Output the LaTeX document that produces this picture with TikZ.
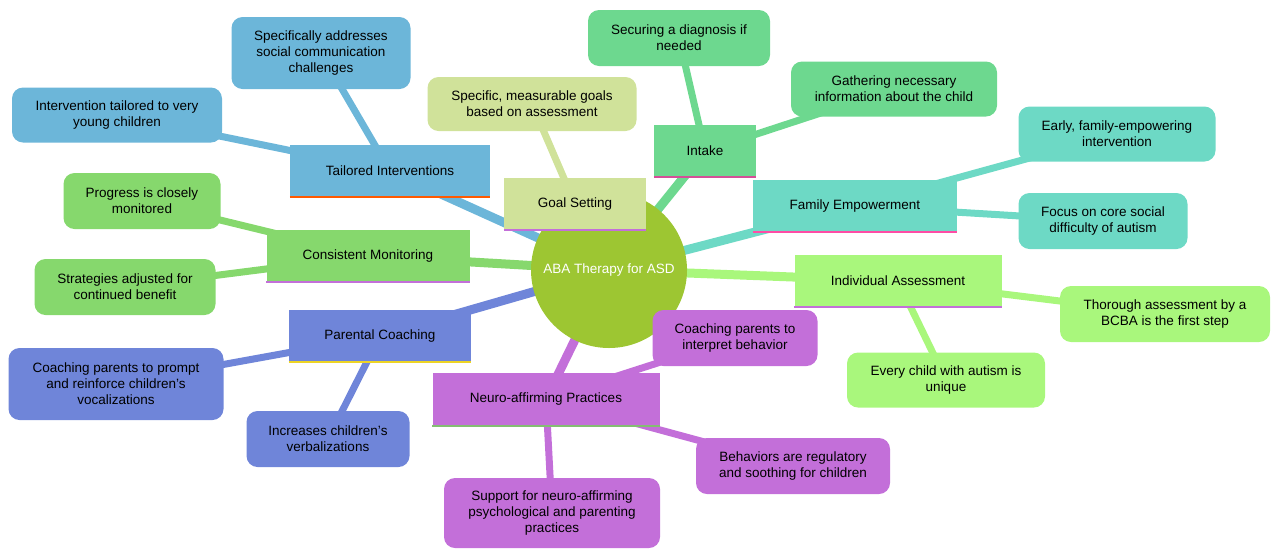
\documentclass[tikz,border=0pt]{standalone}
\usepackage{fontspec}
\setmainfont{Liberation Sans}
\usetikzlibrary{backgrounds}
\definecolor{cBlue}{HTML}{6CB6D9}
\definecolor{cGoal}{HTML}{D0E29A}
\definecolor{cIntake}{HTML}{6DD88F}
\definecolor{cFamily}{HTML}{6DD9C5}
\definecolor{cIndiv}{HTML}{A9F77C}
\definecolor{cMonitor}{HTML}{86D86D}
\definecolor{cParent}{HTML}{6F85D9}
\definecolor{cNeuro}{HTML}{C36FD9}
\definecolor{cRoot}{HTML}{9DC632}

\tikzset{
  leaf/.style={fill=#1, rounded corners=11pt, align=center, inner sep=0pt, font=\fontsize{13.5}{16}\selectfont},
  branch/.style={fill=#1, align=center, inner sep=0pt, font=\fontsize{13.5}{16}\selectfont},
  trunk/.style={line width=9pt, draw=#1},
  twig/.style={line width=7pt, draw=#1}
}

\begin{document}
\begin{tikzpicture}[x=1pt,y=-1pt]
\useasboundingbox (0,0) rectangle (1280,558);

\node[circle, fill=cRoot, minimum size=156pt, text=white, font=\fontsize{13.5}{16}\selectfont] (root) at (609,270) {ABA Therapy for ASD};

% branches
\node[branch=cBlue, minimum width=200pt, minimum height=52pt] (tailor) at (390,171) {Tailored Interventions};
\node[branch=cGoal, minimum width=142pt, minimum height=52pt] (goal) at (575,204) {Goal Setting};
\node[branch=cIntake, minimum width=102pt, minimum height=52pt] (intake) at (705,151) {Intake};
\node[branch=cFamily, minimum width=204pt, minimum height=52pt] (family) at (855,206) {Family Empowerment};
\node[branch=cIndiv, minimum width=207pt, minimum height=52pt] (indiv) at (898,281) {Individual Assessment};
\node[branch=cMonitor, minimum width=203pt, minimum height=52pt] (monitor) at (368,256) {Consistent Monitoring};
\node[branch=cParent, minimum width=182pt, minimum height=52pt] (parent) at (380,336) {Parental Coaching};
\node[branch=cNeuro, minimum width=227pt, minimum height=53pt] (neuro) at (546,399) {Neuro-affirming Practices};

% underlines of branches
\draw[line width=2pt, draw=orange!70!red] (tailor.south west) -- (tailor.south east);
\draw[line width=2pt, draw=cNeuro] (goal.south west) -- (goal.south east);
\draw[line width=2pt, draw=cNeuro!70!red] (intake.south west) -- (intake.south east);
\draw[line width=2pt, draw=red!50!magenta!70] (family.south west) -- (family.south east);
\draw[line width=2pt, draw=cNeuro] (indiv.south west) -- (indiv.south east);
\draw[line width=2pt, draw=cNeuro] (monitor.south west) -- (monitor.south east);
\draw[line width=2pt, draw=yellow!70!brown] (parent.south west) -- (parent.south east);
\draw[line width=2pt, draw=cMonitor!70!gray] (neuro.south west) -- (neuro.south east);

% leaves
\node[leaf=cBlue, minimum width=179pt, minimum height=72pt] (social) at (321,53) {Specifically addresses\\social communication\\challenges};
\node[leaf=cBlue, minimum width=210pt, minimum height=55pt] (young) at (117,115) {Intervention tailored to very\\young children};
\node[leaf=cGoal, minimum width=209pt, minimum height=54pt] (goals) at (532,104) {Specific, measurable goals\\based on assessment};
\node[leaf=cIntake, minimum width=182pt, minimum height=56pt] (diag) at (679,38) {Securing a diagnosis if\\needed};
\node[leaf=cIntake, minimum width=206pt, minimum height=55pt] (gather) at (894,89) {Gathering necessary\\information about the child};
\node[leaf=cFamily, minimum width=197pt, minimum height=55pt] (early) at (1117,134) {Early, family-empowering\\intervention};
\node[leaf=cFamily, minimum width=169pt, minimum height=56pt] (core) at (1103,221) {Focus on core social\\difficulty of autism};
\node[leaf=cIndiv, minimum width=210pt, minimum height=56pt] (bcba) at (1165,314) {Thorough assessment by a\\BCBA is the first step};
\node[leaf=cIndiv, minimum width=198pt, minimum height=55pt] (unique) at (946,380) {Every child with autism is\\unique};
\node[leaf=cNeuro, minimum width=165pt, minimum height=56pt] (interp) at (735,338) {Coaching parents to\\interpret behavior};
\node[leaf=cNeuro, minimum width=194pt, minimum height=56pt] (sooth) at (793,466) {Behaviors are regulatory\\and soothing for children};
\node[leaf=cNeuro, minimum width=216pt, minimum height=70pt] (support) at (552,513) {Support for neuro-affirming\\psychological and parenting\\practices};
\node[leaf=cParent, minimum width=163pt, minimum height=56pt] (verbal) at (328,439) {Increases children's\\verbalizations};
\node[leaf=cParent, minimum width=215pt, minimum height=72pt] (vocal) at (116,384) {Coaching parents to prompt\\and reinforce children's\\vocalizations};
\node[leaf=cMonitor, minimum width=157pt, minimum height=56pt] (progress) at (142,201) {Progress is closely\\monitored};
\node[leaf=cMonitor, minimum width=181pt, minimum height=56pt] (adjust) at (125,287) {Strategies adjusted for\\continued benefit};

\begin{scope}[on background layer]
\draw[trunk=cBlue] (root.center) -- (tailor.center);
\draw[trunk=cGoal] (root.center) -- (goal.center);
\draw[trunk=cIntake] (root.center) -- (intake.center);
\draw[trunk=cFamily] (root.center) -- (family.center);
\draw[trunk=cIndiv] (root.center) -- (indiv.center);
\draw[trunk=cMonitor] (root.center) -- (monitor.center);
\draw[trunk=cParent] (root.center) -- (parent.center);
\draw[trunk=cNeuro] (root.center) -- (neuro.center);
\draw[twig=cBlue] (tailor.center) -- (social.center);
\draw[twig=cBlue] (tailor.center) -- (young.center);
\draw[twig=cGoal] (goal.center) -- (goals.center);
\draw[twig=cIntake] (intake.center) -- (diag.center);
\draw[twig=cIntake] (intake.center) -- (gather.center);
\draw[twig=cFamily] (family.center) -- (early.center);
\draw[twig=cFamily] (family.center) -- (core.center);
\draw[twig=cIndiv] (indiv.center) -- (bcba.center);
\draw[twig=cIndiv] (indiv.center) -- (unique.center);
\draw[twig=cNeuro] (neuro.center) -- (interp.center);
\draw[twig=cNeuro] (neuro.center) -- (sooth.center);
\draw[twig=cNeuro] (neuro.center) -- (support.center);
\draw[twig=cParent] (parent.center) -- (verbal.center);
\draw[twig=cParent] (parent.center) -- (vocal.center);
\draw[twig=cMonitor] (monitor.center) -- (progress.center);
\draw[twig=cMonitor] (monitor.center) -- (adjust.center);
\end{scope}
\end{tikzpicture}
\end{document}
